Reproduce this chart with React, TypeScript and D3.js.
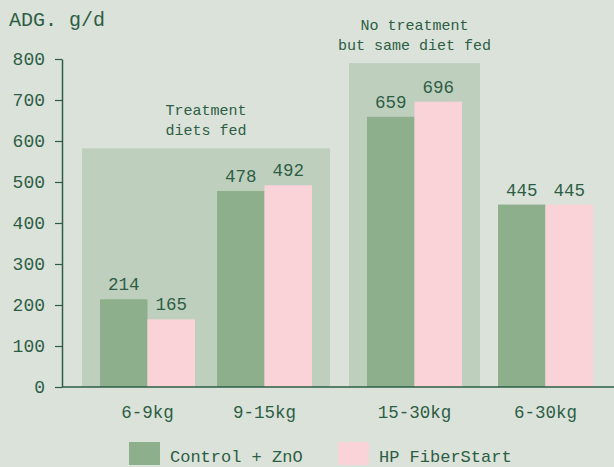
import React, { useRef, useEffect } from 'react';
import * as d3 from 'd3';

const categories = ['6-9kg', '9-15kg', '15-30kg', '6-30kg'];
const seriesNames = ['Control + ZnO', 'HP FiberStart'];
const controlValues = [214, 478, 659, 445];
const fiberValues = [165, 492, 696, 445];
const yTicks = [0, 100, 200, 300, 400, 500, 600, 700, 800];
// shaded periods: which categories they cover, how high they reach, their caption
const periodCats = [['6-9kg', '9-15kg'], ['15-30kg']];
const periodTops = [582, 790];
const periodLabels = [['Treatment', 'diets fed'], ['No treatment', 'but same diet fed']];

const W = 614;
const H = 467;
const FONT = '"Liberation Mono", "DejaVu Sans Mono", monospace';
const INK = '#2d5e45';
const BG = '#dbe2da';
const SHADE = '#becfbd';
const COLORS = ['#8eaf8b', '#fad3d9'];

const App = () => {
    const ref = useRef<SVGSVGElement | null>(null);

    useEffect(() => {
        if (!ref.current) return;
        const svg = d3.select(ref.current);
        svg.selectAll('*').remove();

        const axisX = 62;
        const y = d3.scaleLinear().domain([0, 800]).range([387, 59]);

        // horizontal layout: gap 20 outside shades, pad 18 inside, 22 between groups
        const groupW = 95;
        const centers: number[] = [];
        const shadeX: [number, number][] = [];
        let cx = axisX + 20;
        categories.forEach((c) => {
            const p = periodCats.findIndex(pc => pc[0] === c);
            const inPeriod = periodCats.findIndex(pc => pc.includes(c));
            if (p >= 0) {
                shadeX[p] = [cx, 0];
                cx += 18;
            } else if (inPeriod < 0) {
                cx -= 1;
            }
            centers.push(cx + groupW / 2);
            cx += groupW;
            if (inPeriod >= 0) {
                const pc = periodCats[inPeriod];
                if (pc[pc.length - 1] === c) {
                    cx += 18;
                    shadeX[inPeriod][1] = cx;
                    cx += 19;
                } else {
                    cx += 22;
                }
            }
        });
        const x0 = d3.scaleOrdinal<string, number>().domain(categories).range(centers);
        const x1 = d3.scaleBand().domain(seriesNames).range([-groupW / 2, groupW / 2]).padding(0);

        svg.append('rect').attr('width', W).attr('height', H).attr('fill', BG);

        // shaded periods
        periodTops.forEach((top, p) => {
            svg.append('rect')
                .attr('x', shadeX[p][0])
                .attr('y', y(top))
                .attr('width', shadeX[p][1] - shadeX[p][0])
                .attr('height', y(0) - y(top))
                .attr('fill', SHADE);
            const mid = (shadeX[p][0] + shadeX[p][1]) / 2;
            const lines = periodLabels[p];
            const firstY = y(top) - 33;
            svg.append('text')
                .attr('x', mid)
                .attr('font-family', FONT)
                .attr('font-size', 15)
                .attr('fill', INK)
                .attr('text-anchor', 'middle')
                .selectAll('tspan')
                .data(lines)
                .join('tspan')
                .attr('x', mid)
                .attr('y', (d, i) => firstY + i * 20)
                .text(d => d);
        });

        // bars
        const series = [controlValues, fiberValues];
        series.forEach((vals, s) => {
            const g = svg.append('g');
            g.selectAll('rect')
                .data(vals)
                .join('rect')
                .attr('x', (d, i) => x0(categories[i]) + (x1(seriesNames[s]) as number))
                .attr('y', d => y(d))
                .attr('width', x1.bandwidth())
                .attr('height', d => y(0) - y(d))
                .attr('fill', COLORS[s]);
            g.selectAll('text')
                .data(vals)
                .join('text')
                .attr('x', (d, i) => x0(categories[i]) + (x1(seriesNames[s]) as number) + x1.bandwidth() / 2)
                .attr('y', d => y(d) - 9)
                .attr('text-anchor', 'middle')
                .attr('font-family', FONT)
                .attr('font-size', 17.5)
                .attr('fill', INK)
                .text(d => d);
        });

        // y axis
        const yAxis = svg.append('g')
            .attr('transform', `translate(${axisX},0)`)
            .call(d3.axisLeft(y).tickValues(yTicks).tickSize(7).tickPadding(10).tickSizeOuter(0));
        yAxis.select('.domain').attr('stroke', INK).attr('stroke-width', 1.5);
        yAxis.selectAll('.tick line').attr('stroke', INK).attr('stroke-width', 1.2);
        yAxis.selectAll('.tick text')
            .attr('font-family', FONT)
            .attr('font-size', 18)
            .attr('fill', INK);

        // x axis baseline
        svg.append('line')
            .attr('x1', axisX).attr('x2', W)
            .attr('y1', y(0)).attr('y2', y(0))
            .attr('stroke', INK).attr('stroke-width', 1.5);

        svg.append('g')
            .selectAll('text')
            .data(categories)
            .join('text')
            .attr('x', d => x0(d))
            .attr('y', 418)
            .attr('text-anchor', 'middle')
            .attr('font-family', FONT)
            .attr('font-size', 17.5)
            .attr('fill', INK)
            .text(d => d);

        // title
        svg.append('text')
            .attr('x', 9)
            .attr('y', 26)
            .attr('font-family', FONT)
            .attr('font-size', 20)
            .attr('fill', INK)
            .text('ADG. g/d');

        // legend
        const legendX = [129, 338];
        const legend = svg.append('g')
            .selectAll('g')
            .data(seriesNames)
            .join('g')
            .attr('transform', (d, i) => `translate(${legendX[i]},442)`);
        legend.append('rect')
            .attr('width', 31)
            .attr('height', 23)
            .attr('fill', (d, i) => COLORS[i]);
        legend.append('text')
            .attr('x', 41)
            .attr('y', 20)
            .attr('font-family', FONT)
            .attr('font-size', 17)
            .attr('fill', INK)
            .text(d => d);
    }, []);

    return (
        <svg
            ref={ref}
            width={W}
            height={H}
            style={{ position: 'absolute', left: 0, top: 0, display: 'block' }}
        />
    );
};

export default App;
